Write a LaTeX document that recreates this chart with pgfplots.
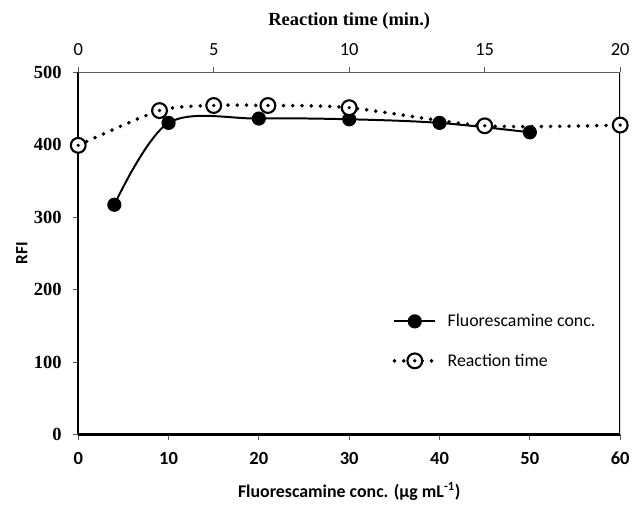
\documentclass[border={9pt 0pt 0pt 6pt}]{standalone}
\usepackage{pgfplots}
\pgfplotsset{compat=1.18}
\usepackage{fontspec}
\setmainfont{Liberation Serif}
\newfontfamily\calibri{Carlito}

% open circle with a dot in the middle
\pgfdeclareplotmark{dotcirc}{%
  \pgfpathcircle{\pgfpointorigin}{\pgfplotmarksize}%
  \pgfsetfillcolor{white}\pgfusepathqfillstroke
  \pgfpathcircle{\pgfpointorigin}{0.25\pgfplotmarksize}%
  \pgfsetfillcolor{black}\pgfusepathqfill}

\pgfplotsset{
  concstyle/.style={black, line width=1.5pt, smooth, tension=0.55,
    mark=*, mark size=4.6pt, mark options={solid, fill=black}},
  timestyle/.style={black, line width=3pt, line cap=round,
    dash pattern=on 0pt off 7pt, smooth, tension=0.45,
    mark=dotcirc, mark size=5.6pt, mark options={solid, line width=1.6pt}},
}

\begin{document}
\begin{tikzpicture}
\begin{axis}[
    scale only axis,
    width=410pt, height=274pt,
    xmin=0, xmax=60, ymin=0, ymax=500,
    axis x line*=bottom, axis y line*=left,
    xtick={0,10,...,60}, ytick={0,100,...,500},
    tick align=outside, major tick length=4pt,
    tick style={gray!70!black, line width=0.6pt},
    axis line style={line width=1.8pt, -},
    /pgf/number format/assume math mode=true,
    x tick label style={font=\calibri\bfseries\fontsize{14}{16}\selectfont, yshift=-6pt},
    y tick label style={font=\bfseries\fontsize{14}{16}\selectfont, xshift=-5pt},
    xlabel={\calibri\bfseries\fontsize{13.5}{16}\selectfont Fluorescamine conc. (µg mL\textsuperscript{-1})},
    ylabel={\calibri\bfseries\fontsize{13}{15}\selectfont RFI},
    xlabel style={yshift=-6pt},
    ylabel style={yshift=-2pt},
]
\draw[line width=1.8pt] (rel axis cs:1,0) -- (rel axis cs:1,1);
\addplot[concstyle] coordinates {
    (4,317) (10,430) (20,436) (30,435) (40,430) (50,417)
};
\end{axis}
\begin{axis}[
    scale only axis,
    width=410pt, height=274pt,
    xmin=0, xmax=20, ymin=0, ymax=500,
    axis x line*=top, axis y line=none,
    xtick={0,5,...,20},
    tick align=outside, major tick length=4pt,
    tick style={gray!70!black, line width=0.6pt},
    x axis line style={gray!70!black, line width=1pt, -},
    /pgf/number format/assume math mode=true,
    x tick label style={font=\calibri\fontsize{14}{16}\selectfont, yshift=5pt},
    xlabel={\bfseries\fontsize{14}{16}\selectfont Reaction time (min.)},
    xlabel style={yshift=4pt},
    legend style={draw=none, fill=none, at={(0.572,0.168)}, anchor=south west,
      font=\calibri\fontsize{13.5}{16}\selectfont, row sep=15pt,
      /tikz/every odd column/.append style={column sep=6pt}},
    legend cell align=left,
    legend image code/.code={%
      \draw[mark repeat=2, mark phase=2] plot coordinates {(0cm,0cm) (0.54cm,0cm) (1.08cm,0cm)};},
]
\addlegendimage{concstyle}
\addlegendentry{Fluorescamine conc.}
\addplot[timestyle] coordinates {
    (0,399) (3,447) (5,454) (7,454) (10,451) (15,426) (20,427)
};
\addlegendentry{Reaction time}
\end{axis}
\end{tikzpicture}
\end{document}
